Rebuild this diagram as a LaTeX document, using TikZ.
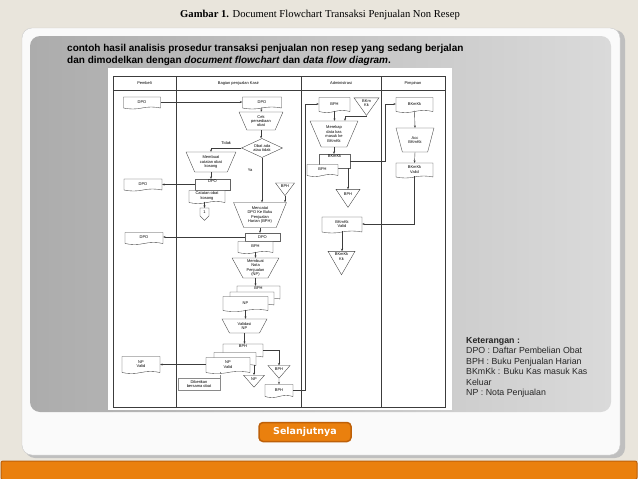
\documentclass[tikz,border=0pt]{standalone}
\usepackage{fontspec}
\setmainfont{Liberation Serif}
\setsansfont{Liberation Sans}
\newfontfamily\btnfont{DejaVu Sans}
\usetikzlibrary{arrows.meta, positioning, calc, shapes.geometric, shapes.symbols}
\definecolor{slidebg}{RGB}{233,229,220}
\definecolor{panelwhite}{RGB}{250,250,250}
\definecolor{shadeleft}{RGB}{172,172,172}
\definecolor{shaderight}{RGB}{218,218,218}
\definecolor{btnorange}{RGB}{234,128,14}
\definecolor{btnedge}{RGB}{190,96,8}
\definecolor{fcline}{RGB}{60,60,60}
\newcommand{\fcfont}{\fontsize{4}{4.4}\selectfont\sffamily}

\tikzset{
  fc/.style={draw=fcline, line width=0.35pt, fill=white, inner sep=0pt, font=\fcfont, align=center},
  doc/.style={fc, tape, tape bend top=none, tape bend height=2pt},
  slip/.style={fc, draw=fcline!80, line width=0.25pt},
  proc/.style={fc, trapezium, trapezium stretches=true, shape border rotate=180,
    trapezium left angle=65, trapezium right angle=65},
  decide/.style={fc, diamond, aspect=2},
  store/.style={fc, isosceles triangle, isosceles triangle stretches, shape border rotate=-90},
  offpage/.style={fc, signal, signal to=south},
  flow/.style={draw=fcline, line width=0.4pt, ->},
  lane/.style={draw=fcline, line width=0.5pt},
}

\begin{document}
\begin{tikzpicture}[x=1pt, y=-1pt, >={Stealth[length=2.4pt, width=2pt]}]
  % slide background
  \fill[slidebg] (0,0) rectangle (638,479);
  \useasboundingbox (0,0) rectangle (638,479);
  \node[font=\fontsize{10.6}{12}\selectfont] (title) at (320,15)
    {\textbf{Gambar 1.} Document Flowchart Transaksi Penjualan Non Resep};
  \fill[black!25, rounded corners=10] (25,30) rectangle (625,458);
  \draw[black!20, fill=panelwhite, rounded corners=10] (22,28) rectangle (620,455);
  \shade[left color=shadeleft, right color=shaderight, rounded corners=10] (30,36) rectangle (611,412);

  \node[anchor=base west, inner sep=0pt, font=\sffamily\bfseries\fontsize{10}{12}\selectfont] (intro1) at (67,51)
    {contoh hasil analisis prosedur transaksi penjualan non resep yang sedang berjalan};
  \node[anchor=base west, inner sep=0pt, font=\sffamily\bfseries\fontsize{10}{12}\selectfont] (intro2) at (67,63)
    {dan dimodelkan dengan \textit{document flowchart} dan \textit{data flow diagram}.};

  % flowchart
  \fill[white] (108,68) rectangle (452,410);
  \draw[lane] (113,76) rectangle (445,407);
  \draw[lane] (113,90) -- (445,90);
  \foreach \lx in {176,301,381}
    \draw[lane] (\lx,76) -- (\lx,407);
  \node[font=\fcfont] (hpembeli) at (144.5,83) {Pembeli};
  \node[font=\fcfont] (hkasir) at (238.5,83) {Bagian penjualan Kasir};
  \node[font=\fcfont] (hadmin) at (341,83) {Administrasi};
  \node[font=\fcfont] (hpimpinan) at (413,83) {Pimpinan};

  % Pembeli
  \node[doc, minimum width=37, minimum height=12] (pdpo) at (142,102) {DPO};
  \node[doc, minimum width=38, minimum height=12] (pdpo2) at (143,184) {DPO};
  \node[doc, minimum width=38, minimum height=12] (pdpo3) at (144,237.5) {DPO};
  \node[doc, minimum width=38, minimum height=17] (pnp) at (141,364) {NP\\Valid};

  % Kasir
  \node[doc, minimum width=39, minimum height=12] (kdpo) at (262,102) {DPO};
  \node[proc, minimum width=44, minimum height=18] (cek) at (261,121) {Cek\\persediaan\\obat};
  \node[decide, minimum width=41, minimum height=19] (ada) at (262,148) {Obat ada\\atau tidak};
  \node[proc, minimum width=50, minimum height=20] (kosong) at (211,162) {Membuat\\catatan obat\\kosong};
  \node[slip, minimum width=35, text height=3.5, text depth=7.5] (kdpo2) at (212.5,184.5) {DPO};
  \node[doc, minimum width=36, minimum height=13] (catatan) at (207,196) {Catatan obat\\kosong};
  \node[offpage, minimum width=9, minimum height=9] (off1) at (204.5,212) {1};
  \node[store, minimum width=19, minimum height=12] (sbph1) at (285,186) {BPH};
  \node[proc, minimum width=53, minimum height=25] (catat) at (260,215) {Mencatat\\DPO Ke Buku\\Penjualan\\Harian (BPH)};
  \node[slip, minimum width=35, minimum height=8] (kdpo3) at (262.5,237) {DPO};
  \node[doc, minimum width=35, minimum height=12] (kbph) at (255.5,246.5) {BPH};
  \node[proc, minimum width=47, minimum height=20] (nota) at (255.5,268) {Membuat\\Nota\\Penjualan\\(NP)};
  \node[doc, minimum width=43, text height=3.2, text depth=8.8] (nbph) at (258.5,292) {BPH};
  \node[doc, minimum width=44, minimum height=14] (ncopy) at (252,298) {};
  \node[doc, minimum width=45, minimum height=15] (nnp) at (245.5,303) {NP};
  \node[proc, minimum width=45, minimum height=14] (valid) at (244.5,326) {Validasi\\NP};
  \node[doc, minimum width=40, text height=3.2, text depth=8.8] (vbph) at (243,350) {BPH};
  \node[doc, minimum width=42, minimum height=14] (vcopy) at (235,358.5) {};
  \node[doc, minimum width=44, minimum height=16] (vnp) at (228,364.5) {NP\\Valid};
  \node[store, minimum width=21, minimum height=12] (snp) at (254,379) {NP};
  \node[store, minimum width=22, minimum height=12] (sbph2) at (279,369) {BPH};
  \node[doc, minimum width=28, minimum height=13] (kbph2) at (279,390) {BPH};
  \node[slip, draw=fcline!60, minimum width=42, minimum height=12] (beri) at (199,384) {Diberikan\\bersama obat};

  % Administrasi
  \node[doc, minimum width=31, minimum height=15] (abph) at (334.5,104) {BPH};
  \node[store, minimum width=25, minimum height=16] (abkm) at (366.5,103) {BKm\\Kk};
  \node[proc, minimum width=48, minimum height=26] (rekap) at (334,134) {Merekap\\data kas\\masuk ke\\BKmKk};
  \node[slip, minimum width=31, text height=3.2, text depth=10.8] (abk) at (334.5,161) {BKmKk};
  \node[doc, minimum width=31, minimum height=12] (abph2) at (322.5,169.5) {BPH};
  \node[store, minimum width=24, minimum height=18] (sabph) at (348,194) {BPH};
  \node[doc, minimum width=40, minimum height=16] (abkv) at (342,224) {BKmKk\\Valid};
  \node[store, minimum width=27, minimum height=17] (abkk) at (341.5,256.5) {BKmKk\\Kk};

  % Pimpinan
  \node[doc, minimum width=37, minimum height=15] (pbk) at (414.5,104) {BKmKk};
  \node[proc, minimum width=38, minimum height=24] (acc) at (415,140) {Acc\\BKmKk};
  \node[doc, minimum width=37, minimum height=15] (pbkv) at (414.5,169.5) {BKmKk\\Valid};

  \coordinate (lp) at (305,104);
  \coordinate (lq) at (385,104);
  \coordinate (mj) at (345,116);

  % connectors
  \draw[flow] (pdpo.east) -- (pdpo.east -| kdpo.west);
  \draw[flow] (kdpo.south) -- (cek.north);
  \draw[flow] (cek.south) -- (cek.south |- ada.north);
  \draw[flow] (ada.west) -| node[pos=0.25, above, font=\fcfont] {Tidak} (kosong.north);
  \draw[flow] (ada.south) -- node[pos=0.27, left=6pt, font=\fcfont] {Ya} (ada.south |- catat.north);
  \draw[flow] (kosong.south) -- (kosong.south |- kdpo2.north);
  \draw[flow] (kdpo2.west) -- (kdpo2.west -| pdpo2.east);
  \draw[flow] (off1.north |- catatan.south) -- (off1.north);
  \draw[flow] (sbph1.south) -- (sbph1.south |- catat.north);
  \draw[flow] (catat.south) -- (catat.south |- kdpo3.north);
  \draw[flow] (kdpo3.west) -- (kdpo3.west -| pdpo3.east);
  \draw[flow] (kbph.south) -- (kbph.south |- nota.north);
  \draw[flow] (nota.south) -- (nota.south |- nbph.north);
  \draw[flow] (nnp.south) -- (nnp.south |- valid.north);
  \draw[flow] (valid.south) -- (valid.south |- vbph.north);
  \draw[flow] (vnp.west) -- (vnp.west -| pnp.east);
  \draw[flow] (vbph.east) -| (sbph2.north);
  \draw[flow] (snp.north |- vcopy.south) -- (snp.north);
  \draw[flow] (sbph2.south) -- (kbph2.north);
  \draw[fcline!60, line width=0.3pt, dashed] (beri.north east) -- (beri.north east |- vnp.south);
  \draw[flow] (kbph2.east) -| (lp) -- (abph.west);
  \draw[flow] (abph.south) -- (abph.south |- rekap.north);
  \draw[flow] (abkm.south) |- (mj) -- (mj |- rekap.north);
  \draw[flow] (rekap.south) -- (rekap.south |- abk.north);
  \draw[flow] (abk.east) -| (lq) -- (pbk.west);
  \draw[flow] (sabph.north |- abk.south) -- (sabph.north);
  \draw[flow] (pbk.south) -- (acc.north);
  \draw[flow] (acc.south) -- (pbkv.north);
  \draw[flow] (pbkv.south) |- (abkv.east);
  \draw[flow] (abkv.south) -- (abkv.south |- abkk.north);

  % legend
  \node[anchor=north west, inner sep=0pt, align=left, text=black!85,
    font=\sffamily\fontsize{8.8}{10.5}\selectfont] (ket) at (466,337)
    {\textbf{Keterangan :}\\DPO : Daftar Pembelian Obat\\BPH : Buku Penjualan Harian\\BKmKk : Buku Kas masuk Kas\\Keluar\\NP : Nota Penjualan};

  % button and bar
  \node[draw=btnedge, line width=1.5pt, fill=btnorange, rounded corners=4, minimum width=92, minimum height=19,
    text=white, font=\btnfont\bfseries\fontsize{9.5}{11}\selectfont] (next) at (305,432) {Selanjutnya};
  \draw[btnedge, fill=btnorange, line width=1pt, rounded corners=2] (1,461) rectangle (637,479.5);
\end{tikzpicture}
\end{document}
